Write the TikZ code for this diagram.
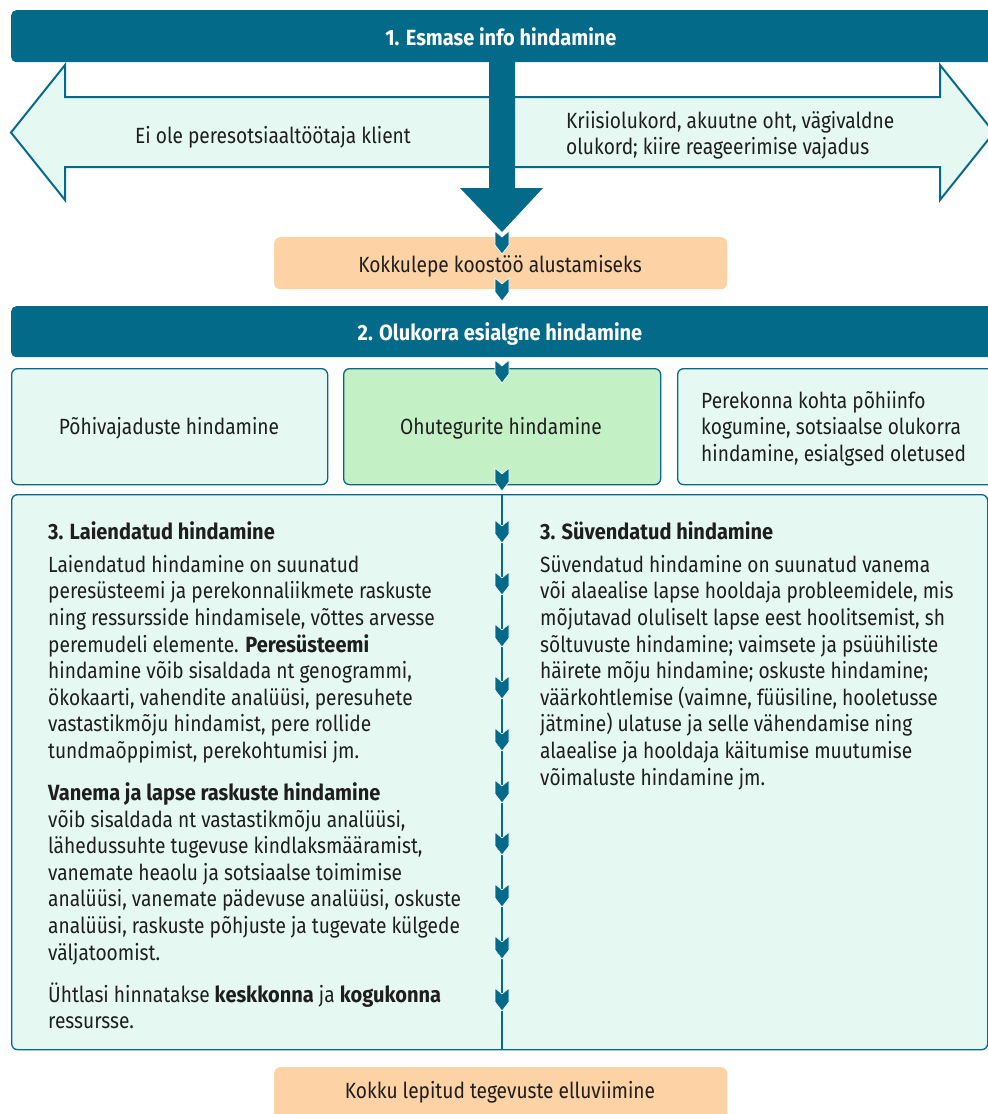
\documentclass[tikz,border=0pt]{standalone}
\usepackage{fontspec}
\setmainfont{Fira Sans}[FakeStretch=0.87, BoldFeatures={FakeStretch=0.91}]
\definecolor{teal1}{HTML}{046A8A}
\definecolor{mint}{HTML}{E6F8F2}
\definecolor{lgreen}{HTML}{C4F0C6}
\definecolor{orng}{HTML}{FDD2A4}
\definecolor{txt}{HTML}{1E1E1E}
\newcommand\bodyfnt{\fontsize{22}{26.6}\selectfont}
\newcommand\hdfnt{\fontsize{22}{26.6}\selectfont\bfseries}
\begin{document}
\begin{tikzpicture}[x=1pt,y=-1pt,
  bar/.style={fill=teal1, rounded corners=5pt, inner sep=0, anchor=north west},
  lbox/.style={fill=mint, draw=teal1, line width=1.3pt, rounded corners=6pt, inner sep=0, anchor=north west},
  gbox/.style={fill=lgreen, draw=teal1, line width=1.3pt, rounded corners=6pt, inner sep=0, anchor=north west},
  obox/.style={fill=orng, rounded corners=6pt, inner sep=0, anchor=north west},
  bartext/.style={text=white, font=\hdfnt, inner sep=0, anchor=base},
  ctext/.style={text=txt, font=\bodyfnt, inner sep=0, anchor=base},
  ptext/.style={text=txt, font=\bodyfnt, inner sep=0, anchor=north west, align=left},
  arrowshape/.style={fill=mint, draw=teal1, line width=2pt, line join=miter},
  vline/.style={draw=teal1, line width=1.4pt},
  chev/.pic={\path[fill=teal1, draw=white, line width=0.6pt] (-7,0)--(0,6)--(7,0)--(7,14)--(0,23)--(-7,14)--cycle;}
]
\useasboundingbox (0,0) rectangle (988,1114);
\clip (0,0) rectangle (988,1114);
\fill[white] (0,0) rectangle (988,1114);

% side arrows
\draw[arrowshape] (500,97) -- (65,97) -- (65,65) -- (11,132.5) -- (65,200) -- (65,167) -- (500,167);
\draw[arrowshape] (500,97) -- (940,97) -- (940,65) -- (994,132.5) -- (940,200) -- (940,167) -- (500,167);

% bar 1
\node[bar, minimum width=1000pt, minimum height=52pt] (bar1) at (11,10) {};
\node[bartext] (bar1t) at (501,45) {1. Esmase info hindamine};

% big down arrow
\fill[teal1] (489,50) -- (515,50) -- (515,188) -- (543,188) -- (502,232) -- (460,188) -- (489,188) -- cycle;

% texts in arrows
\node[ctext] (lefttxt) at (273,143) {Ei ole peresotsiaaltöötaja klient};
\node[ptext] (righttxt) at (566,106) {\rule{0pt}{22pt}Kriisiolukord, akuutne oht, vägivaldne\\olukord; kiire reageerimise vajadus};

% agreement box
\node[obox, minimum width=453pt, minimum height=52pt] (agree) at (274,237) {};
\node[ctext] (agreet) at (500,272) {Kokkulepe koostöö alustamiseks};

% bar 2
\node[bar, minimum width=1000pt, minimum height=51pt] (bar2) at (11,306) {};
\node[bartext] (bar2t) at (500,340) {2. Olukorra esialgne hindamine};

% three boxes
\node[lbox, minimum width=316pt, minimum height=116pt] (b1) at (11,368) {};
\node[gbox, minimum width=317pt, minimum height=116pt] (b2) at (343,368) {};
\node[lbox, minimum width=330pt, minimum height=116pt] (b3) at (677,368) {};
\node[ctext] (b1t) at (169,434) {Põhivajaduste hindamine};
\node[ctext] (b2t) at (501,434) {Ohutegurite hindamine};
\node[ptext] (b3t) at (701,386) {\rule{0pt}{22pt}Perekonna kohta põhiinfo\\kogumine, sotsiaalse olukorra\\hindamine, esialgsed oletused};

% big box
\node[lbox, minimum width=976pt, minimum height=555pt] (big) at (11,494) {};
\coordinate (vtop) at (502,494);
\coordinate (vbot) at (502,1049);
\draw[vline] (vtop) -- (vbot);

% final box
\node[obox, minimum width=453pt, minimum height=70pt] (final) at (274,1067) {};
\node[ctext] (finalt) at (500,1098) {Kokku lepitud tegevuste elluviimine};

% chevrons
\foreach \yy in {231,278,360,468,520,572,624,676,728,780,832,884,936,988}
  \pic at (502,\yy) {chev};

% left column
\node[ptext] (leftcol) at (48,517) {\rule{0pt}{22pt}\textbf{3. Laiendatud hindamine}\\[6.4pt]
Laiendatud hindamine on suunatud\\
peresüsteemi ja perekonnaliikmete raskuste\\
ning ressursside hindamisele, võttes arvesse\\
peremudeli elemente. \textbf{Peresüsteemi}\\
hindamine võib sisaldada nt genogrammi,\\
ökokaarti, vahendite analüüsi, peresuhete\\
vastastikmõju hindamist, pere rollide\\
tundmaõppimist, perekohtumisi jm.\\[15.4pt]
\textbf{Vanema ja lapse raskuste hindamine}\\
võib sisaldada nt vastastikmõju analüüsi,\\
lähedussuhte tugevuse kindlaksmääramist,\\
vanemate heaolu ja sotsiaalse toimimise\\
analüüsi, vanemate pädevuse analüüsi, oskuste\\
analüüsi, raskuste põhjuste ja tugevate külgede\\
väljatoomist.\\[15.4pt]
Ühtlasi hinnatakse \textbf{keskkonna} ja \textbf{kogukonna}\\
ressursse.};

% right column
\node[ptext] (rightcol) at (540,517) {\rule{0pt}{22pt}\textbf{3. Süvendatud hindamine}\\[6.4pt]
Süvendatud hindamine on suunatud vanema\\
või alaealise lapse hooldaja probleemidele, mis\\
mõjutavad oluliselt lapse eest hoolitsemist, sh\\
sõltuvuste hindamine; vaimsete ja psüühiliste\\
häirete mõju hindamine; oskuste hindamine;\\
väärkohtlemise (vaimne, füüsiline, hooletusse\\
jätmine) ulatuse ja selle vähendamise ning\\
alaealise ja hooldaja käitumise muutumise\\
võimaluste hindamine jm.};
\end{tikzpicture}
\end{document}
